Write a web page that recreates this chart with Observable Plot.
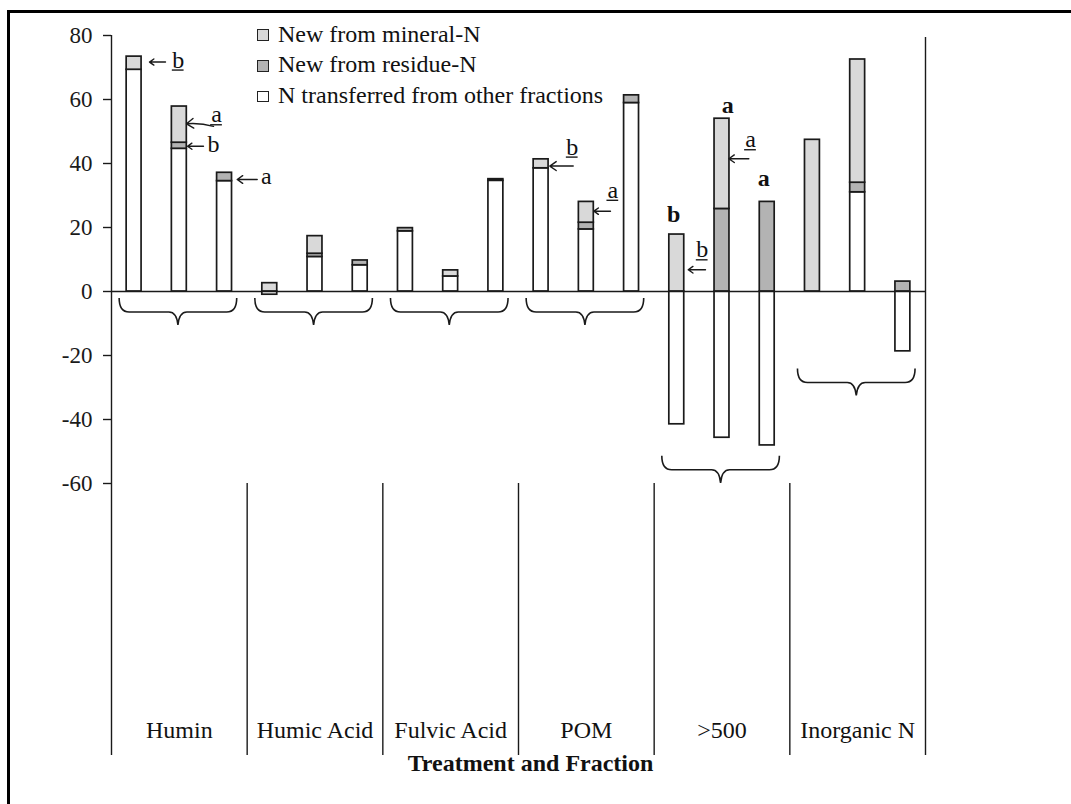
<!DOCTYPE html>
<html>
<head>
<meta charset="utf-8">
<script src="https://cdn.jsdelivr.net/npm/d3@7"></script>
<script src="https://cdn.jsdelivr.net/npm/@observablehq/plot@0.6"></script>
<style>
  html, body { margin: 0; padding: 0; background: #fff; overflow: hidden; }
  #wrap { position: relative; width: 1071px; height: 804px; }
  #wrap svg { position: absolute; left: 0; top: 0; }
  #frame { position: absolute; left: 7px; top: 10px; width: 1200px; height: 1000px;
           border: 3px solid #000; box-sizing: border-box; pointer-events: none; }
  .key { position: absolute; font: 24px "Liberation Serif", "Times New Roman", serif;
         line-height: 24px; color: #111; white-space: nowrap; }
  .swatch { position: absolute; width: 11.5px; height: 11.5px; border: 1.3px solid #222; box-sizing: border-box; }
</style>
</head>
<body>
<div id="wrap"><div id="frame"></div></div>
<script>
// Soil N fractions, three treatments each
const fractions = ["Humin", "Humic Acid", "Fulvic Acid", "POM", ">500", "Inorganic N"];
const seriesNames = ["N transferred from other fractions", "New from residue-N", "New from mineral-N"];
const seriesColors = ["#ffffff", "#b3b3b3", "#d9d9d9"];

// values per bar (3 treatments x 6 fractions)
const transferred = [69.3, 44.6, 34.5,  -1.0, 10.8, 8.2,  18.8, 4.7, 34.6,  38.5, 19.4, 58.9,  -41.5, -45.7, -48.1,  0, 31.0, -18.7];
const residue     = [0, 1.9, 2.6,        0, 1.0, 1.5,      1.0, 0, 0.5,      0, 2.1, 2.4,       0, 25.8, 28.0,        0, 3.0, 3.1];
const mineral     = [4.1, 11.3, 0,       2.6, 5.5, 0,      0, 1.9, 0,        2.8, 6.5, 0,       17.8, 28.2, 0,        47.4, 38.5, 0];

const yTicks = [-60, -40, -20, 0, 20, 40, 60, 80];

// brace level under each fraction group
const braceLevels = [-2.2, -2.2, -2.2, -2.2, -51.5, -24.2];

// significance letters beside bars (x in bar slots, y = baseline value)
const noteX    = [1.475, 2.322, 2.256, 3.421, 10.188, 11.086, 13.062, 14.130];
const noteY    = [70.0, 52.9, 43.5, 33.7, 42.8, 29.3, 10.7, 45.1];
const noteText = ["b", "a", "b", "a", "b", "a", "b", "a"];
const noteUnderlined = [true, true, false, false, true, true, true, true];

// arrows pointing from the letters to the bars
const arrowFrom = [[1.194, 71.7], [2.256, 51.6], [2.034, 45.4], [3.222, 35.0], [10.210, 39.2], [11.034, 25.1], [13.135, 6.8], [14.093, 41.5]];
const arrowTo   = [[0.840, 71.7], [1.659, 52.4], [1.681, 45.4], [2.780, 35.0], [9.692, 39.2], [10.666, 25.1], [12.753, 6.8], [13.651, 41.5]];
const curvedArrow = 1;

// bold letters over the >500 bars
const topText = ["b", "a", "a"];
const topX = [12.434, 13.628, 14.424];
const topY = [21.7, 55.7, 33.1];

// ---- build tables ----
const seriesValues = [transferred, residue, mineral];
const bars = [];
transferred.forEach((_, i) => {
  seriesNames.forEach((s, k) => {
    const v = seriesValues[k][i];
    if (v !== 0) bars.push({slot: i, fraction: fractions[Math.floor(i / 3)], series: s, value: v});
  });
});
const notes = noteX.map((x, i) => ({x, y: noteY[i], text: noteText[i], underline: noteUnderlined[i]}));
const arrows = arrowFrom.map((f, i) => ({x1: f[0], y1: f[1], x2: arrowTo[i][0], y2: arrowTo[i][1], i}));
const tops = topX.map((x, i) => ({x, y: topY[i], text: topText[i]}));

const HALF = 0.165;     // half bar width, in slot units
const INK = "#1a1a1a";
const serif = "'Liberation Serif', 'Times New Roman', serif";

// curly braces under each group, drawn with the plot's scales
function braceMark(index, {x, y}) {
  const g = d3.create("svg:g").attr("fill", "none").attr("stroke", INK).attr("stroke-width", 1.6);
  braceLevels.forEach((lvl, gi) => {
    const l = x(gi * 3 + 0.18), r = x(gi * 3 + 2.78), cx = (l + r) / 2, y0 = y(lvl);
    const h = 14, t = 27;
    const d = `M${l},${y0} C${l},${y0 + 9} ${l + 3},${y0 + h} ${l + 10},${y0 + h} H${cx - 9}` +
      ` C${cx - 4},${y0 + h} ${cx - 1},${y0 + h + 3} ${cx},${y0 + t}` +
      ` C${cx + 1},${y0 + h + 3} ${cx + 4},${y0 + h} ${cx + 9},${y0 + h} H${r - 10}` +
      ` C${r - 3},${y0 + h} ${r},${y0 + 9} ${r},${y0}`;
    g.append("path").attr("d", d);
  });
  return g.node();
}

const chart = Plot.plot({
  width: 1071,
  height: 804,
  marginLeft: 111,
  marginRight: 146,
  marginTop: 35,
  marginBottom: 49,
  style: {background: "transparent", color: INK, fontFamily: serif, fontSize: "23px", overflow: "visible"},
  x: {domain: [0, 18], axis: null},
  y: {domain: [-145, 80], axis: null},
  color: {domain: seriesNames, range: seriesColors},
  marks: [
    // y axis
    Plot.axisY({ticks: yTicks, tickFormat: d => String(d), tickSize: 8, tickPadding: 11, label: null, fontSize: 23, strokeWidth: 1.4}),
    Plot.ruleX([0], {y1: -145, y2: 80, strokeWidth: 1.4}),
    Plot.ruleX([18], {y1: -145, y2: 79.4, strokeWidth: 1.4}),
    Plot.ruleX([3, 6, 9, 12, 15], {y1: -60, y2: -145, strokeWidth: 1.4}),
    // stacked bars
    Plot.rectY(bars, Plot.stackY({
      x1: d => d.slot + 0.5 - HALF,
      x2: d => d.slot + 0.5 + HALF,
      y: "value",
      z: "series",
      fill: "series",
      order: seriesNames,
      stroke: INK,
      strokeWidth: 1.7
    })),
    Plot.ruleY([0], {strokeWidth: 1.4}),
    braceMark,
    // arrows and letters
    Plot.arrow(arrows.filter(d => d.i !== curvedArrow), {x1: "x1", y1: "y1", x2: "x2", y2: "y2", stroke: INK, strokeWidth: 1.4, headLength: 9, headAngle: 70}),
    Plot.arrow(arrows.filter(d => d.i === curvedArrow), {x1: "x1", y1: "y1", x2: "x2", y2: "y2", stroke: INK, strokeWidth: 1.4, headLength: 9, headAngle: 70, bend: -10}),
    Plot.text(notes, {x: "x", y: "y", text: "text", lineAnchor: "bottom", fontSize: 24, fill: "#111"}),
    Plot.ruleY(notes.filter(d => d.underline), {y: d => d.y - 0.8, x1: d => d.x - 0.13, x2: d => d.x + 0.13, strokeWidth: 1.4}),
    Plot.text(tops, {x: "x", y: "y", text: "text", lineAnchor: "bottom", fontSize: 24, fontWeight: "bold", fill: "#111"}),
    // category labels and axis title
    Plot.text(fractions, {x: (d, i) => i * 3 + 1.5, frameAnchor: "bottom", dy: -18, text: d => d, fontSize: 24, fill: "#111"}),
    Plot.text(["Treatment and Fraction"], {frameAnchor: "bottom", dx: 12, dy: 15, fontSize: 24, fontWeight: "bold", fill: "#111"})
  ]
});

const wrap = document.getElementById("wrap");
wrap.insertBefore(chart, wrap.firstChild);

// legend, top row first
const legendRows = [2, 1, 0];
legendRows.forEach((k, row) => {
  const sw = document.createElement("div");
  sw.className = "swatch";
  sw.style.left = "257px";
  sw.style.top = (29.3 + 30.7 * row) + "px";
  sw.style.background = seriesColors[k];
  wrap.appendChild(sw);
  const tx = document.createElement("div");
  tx.className = "key";
  tx.style.left = "278px";
  tx.style.top = (21.6 + 30.7 * row) + "px";
  tx.textContent = seriesNames[k];
  wrap.appendChild(tx);
});
</script>
</body>
</html>
